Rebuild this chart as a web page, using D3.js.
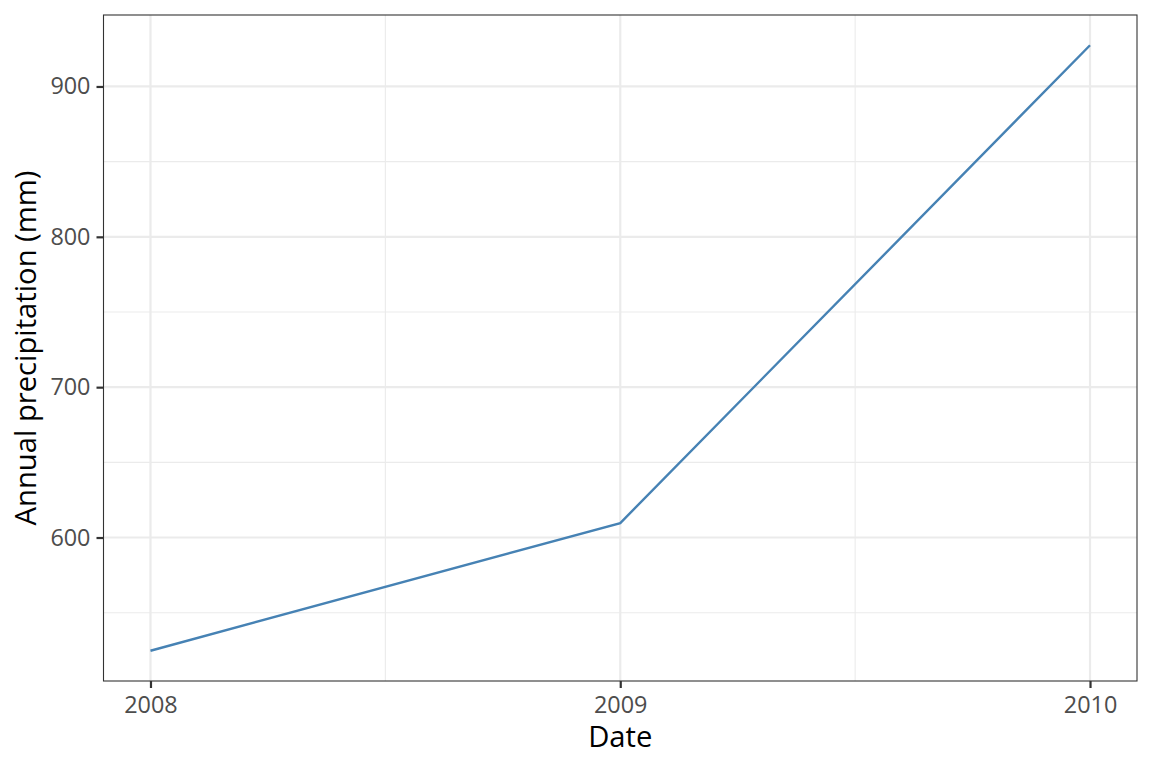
<!DOCTYPE html>
<html>
<head>
<meta charset="utf-8">
<script src="https://cdn.jsdelivr.net/npm/d3@7"></script>
<style>
  body { margin: 0; background: #fff; }
  text { font-family: "Open Sans", sans-serif; }
</style>
</head>
<body>
<div class="chart"></div>
<script>
var years = [2008, 2009, 2010];
var precip = [524.7, 609.6, 927.4];
var yTicks = [600, 700, 800, 900];
var yMinor = [550, 650, 750, 850];
var xMinor = [2008.5, 2009.5];

var W = 1152, H = 768;
var margin = {top: 15, right: 15, bottom: 87, left: 103.5};
var width = W - margin.left - margin.right,
    height = H - margin.top - margin.bottom;

var svg = d3.select(".chart").append("svg")
    .attr("width", W)
    .attr("height", H);

var g = svg.append("g")
    .attr("transform", "translate(" + margin.left + "," + margin.top + ")");

// ggplot style 5% expansion
var xr = d3.extent(years), yr = d3.extent(precip);
var xpad = (xr[1] - xr[0]) * 0.05, ypad = (yr[1] - yr[0]) * 0.05;

var x = d3.scaleLinear()
    .domain([xr[0] - xpad, xr[1] + xpad])
    .range([0, width]);
var y = d3.scaleLinear()
    .domain([yr[0] - ypad, yr[1] + ypad])
    .range([height, 0]);

// minor grid
g.selectAll(".ygm").data(yMinor).enter().append("line")
    .attr("x1", 0).attr("x2", width)
    .attr("y1", function(d) { return y(d); }).attr("y2", function(d) { return y(d); })
    .attr("stroke", "#ebebeb").attr("stroke-width", 1.1);
g.selectAll(".xgm").data(xMinor).enter().append("line")
    .attr("y1", 0).attr("y2", height)
    .attr("x1", function(d) { return x(d); }).attr("x2", function(d) { return x(d); })
    .attr("stroke", "#ebebeb").attr("stroke-width", 1.1);

// major grid
g.selectAll(".yg").data(yTicks).enter().append("line")
    .attr("x1", 0).attr("x2", width)
    .attr("y1", function(d) { return y(d); }).attr("y2", function(d) { return y(d); })
    .attr("stroke", "#ebebeb").attr("stroke-width", 2.2);
g.selectAll(".xg").data(years).enter().append("line")
    .attr("y1", 0).attr("y2", height)
    .attr("x1", function(d) { return x(d); }).attr("x2", function(d) { return x(d); })
    .attr("stroke", "#ebebeb").attr("stroke-width", 2.2);

// the line
var line = d3.line()
    .x(function(d, i) { return x(years[i]); })
    .y(function(d) { return y(d); });

g.append("path")
    .datum(precip)
    .attr("fill", "none")
    .attr("stroke", "steelblue")
    .attr("stroke-width", 2.4)
    .attr("d", line);

// panel border
g.append("rect")
    .attr("width", width).attr("height", height)
    .attr("fill", "none").attr("stroke", "#333333").attr("stroke-width", 1.1);

// axes
var xAxis = g.append("g")
    .attr("transform", "translate(0," + height + ")")
    .call(d3.axisBottom(x).tickValues(years).tickFormat(d3.format("d")).tickSize(7).tickPadding(8));
var yAxis = g.append("g")
    .call(d3.axisLeft(y).tickValues(yTicks).tickSize(7).tickPadding(6));

[xAxis, yAxis].forEach(function(a) {
    a.select(".domain").remove();
    a.selectAll(".tick line").attr("stroke", "#333333").attr("stroke-width", 2.2);
    a.selectAll(".tick text")
        .attr("fill", "#4d4d4d")
        .style("font-size", "23.4px")
        .style("font-family", "'Open Sans', sans-serif");
});

// axis titles
svg.append("text")
    .attr("x", margin.left + width / 2)
    .attr("y", 747)
    .attr("text-anchor", "middle")
    .style("font-size", "29.2px")
    .attr("fill", "#000")
    .text("Date");

svg.append("text")
    .attr("transform", "translate(36," + (margin.top + height / 2) + ") rotate(-90)")
    .attr("text-anchor", "middle")
    .style("font-size", "29.2px")
    .attr("fill", "#000")
    .text("Annual precipitation (mm)");
</script>
</body>
</html>
